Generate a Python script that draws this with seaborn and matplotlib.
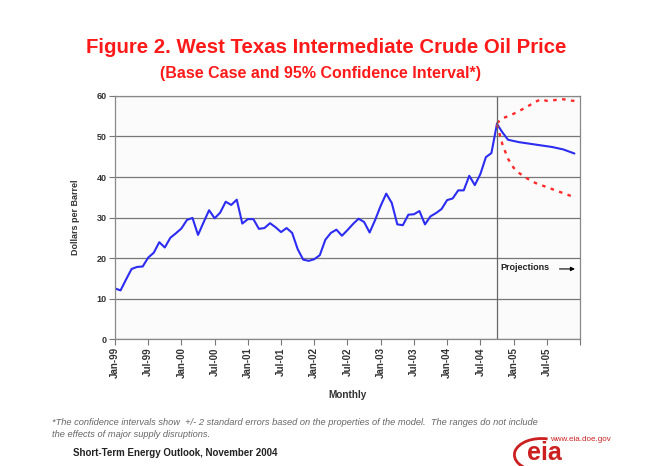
import matplotlib.pyplot as plt
import matplotlib.patches as mpatches
import numpy as np
import pandas as pd
import seaborn as sns

# monthly WTI price, Jan-99 .. Oct-04 (dollars per barrel)
hist_price = [12.5, 12.0, 14.7, 17.3, 17.8, 17.9, 20.1, 21.3, 23.9, 22.6, 25.0, 26.1,
              27.3, 29.4, 29.9, 25.7, 28.8, 31.8, 29.8, 31.2, 33.9, 33.1, 34.4, 28.5,
              29.6, 29.6, 27.2, 27.4, 28.6, 27.6, 26.4, 27.4, 26.2, 22.2, 19.6, 19.3,
              19.7, 20.7, 24.5, 26.2, 27.0, 25.5, 26.9, 28.4, 29.7, 28.9, 26.3, 29.4,
              32.9, 35.9, 33.6, 28.3, 28.1, 30.7, 30.8, 31.6, 28.3, 30.3, 31.1, 32.1,
              34.3, 34.7, 36.7, 36.7, 40.3, 38.0, 40.7, 44.9, 45.9, 53.1]

# projection Oct-04 .. Dec-05
base_case = [53.1, 51.0, 49.2, 48.9, 48.6, 48.4, 48.2, 48.0, 47.8, 47.6, 47.4, 47.1, 46.8, 46.3, 45.8]
upper_ci = [53.3, 54.5, 55.0, 55.6, 56.3, 57.0, 57.8, 58.6, 59.2, 58.8, 58.9, 59.1, 59.2, 58.9, 58.8]
lower_ci = [53.0, 48.0, 44.5, 42.3, 41.0, 40.0, 39.2, 38.5, 38.0, 37.5, 37.0, 36.5, 36.0, 35.5, 35.0]

tick_labels = ["Jan-99", "Jul-99", "Jan-00", "Jul-00", "Jan-01", "Jul-01", "Jan-02",
               "Jul-02", "Jan-03", "Jul-03", "Jan-04", "Jul-04", "Jan-05", "Jul-05"]

hist_df = pd.DataFrame({"month": np.arange(len(hist_price)), "price": hist_price})
start = len(hist_price) - 1
proj_df = pd.DataFrame({"month": np.arange(start, start + len(base_case)),
                        "base": base_case, "upper": upper_ci, "lower": lower_ci})

sns.set_style("white")
plt.rcParams['font.family'] = ['Liberation Sans', 'DejaVu Sans']

fig = plt.figure(figsize=(6.62, 4.66), dpi=100)
ax = fig.add_axes([0.1737, 0.2725, 0.7024, 0.5215])
ax.set_facecolor("#fbfbfb")

blue = "#2c2cf2"
red = "#ff2a2a"
sns.lineplot(data=hist_df, x="month", y="price", ax=ax, color=blue, lw=1.5)
sns.lineplot(data=proj_df, x="month", y="base", ax=ax, color=blue, lw=1.5)
sns.lineplot(data=proj_df, x="month", y="upper", ax=ax, color=red, lw=1.7, linestyle=(0, (1.5, 2.3)))
sns.lineplot(data=proj_df, x="month", y="lower", ax=ax, color=red, lw=1.7, linestyle=(0, (1.5, 2.3)))

ax.set_xlim(0, 84)
ax.set_ylim(0, 60)
ax.set_yticks(range(0, 61, 10))
ax.set_xticks(range(0, 85, 6))
ax.set_xticklabels(tick_labels + [""], rotation=90, fontsize=7, fontweight="bold", color="#333333")
ax.set_yticklabels([str(v) for v in range(0, 61, 10)], fontsize=6.5, fontweight="bold", color="#333333")
ax.tick_params(axis="both", direction="out", length=4, width=0.8, color="#777777", pad=2,
               bottom=True, left=True)
ax.grid(axis="y", color="#777777", lw=0.9)
ax.grid(axis="x", visible=False)
for s in ax.spines.values():
    s.set_color("#888888")
    s.set_linewidth(0.9)

ax.axvline(start, color="#666666", lw=0.9)
ax.text(start + 0.6, 17.6, "Projections", fontsize=6.5, fontweight="bold", va="center", color="#222222")
ax.annotate("", xy=(83.6, 17.3), xytext=(79.8, 17.3),
            arrowprops=dict(arrowstyle="-|>", color="black", lw=0.8, mutation_scale=6))

ax.set_xlabel("Monthly", fontsize=7.2, fontweight="bold", color="#333333", labelpad=8)
ax.set_ylabel("Dollars per Barrel", fontsize=6.5, fontweight="bold", color="#333333", labelpad=12)

fig.text(0.492, 0.897, "Figure 2. West Texas Intermediate Crude Oil Price", ha="center", va="center",
         fontsize=14.7, fontweight="bold", color="#ff1a1a")
fig.text(0.484, 0.843, "(Base Case and 95% Confidence Interval*)", ha="center", va="center",
         fontsize=11.5, fontweight="bold", color="#ff1a1a")

fig.text(0.079, 0.093, "*The confidence intervals show  +/- 2 standard errors based on the properties of the model.  "
         "The ranges do not include", fontsize=6.7, style="italic", color="#666666", va="center")
fig.text(0.079, 0.067, "the effects of major supply disruptions.", fontsize=6.7, style="italic",
         color="#666666", va="center")
fig.text(0.11, 0.028, "Short-Term Energy Outlook, November 2004", fontsize=7, fontweight="bold",
         color="#222222", va="center")

# eia logo
fig.text(0.831, 0.056, "www.eia.doe.gov", fontsize=5.8, color="#cc2222", va="center")
fig.text(0.822, 0.027, "eia", fontsize=18, fontweight="bold", color="#cc1f1f", va="center", ha="center")
fig.patches.append(mpatches.Arc((0.818, 0.024), 0.082, 0.07, theta1=75, theta2=255, lw=2,
                                color="#cc1f1f", transform=fig.transFigure))

fig.savefig("out.png", dpi=100, facecolor="white")
